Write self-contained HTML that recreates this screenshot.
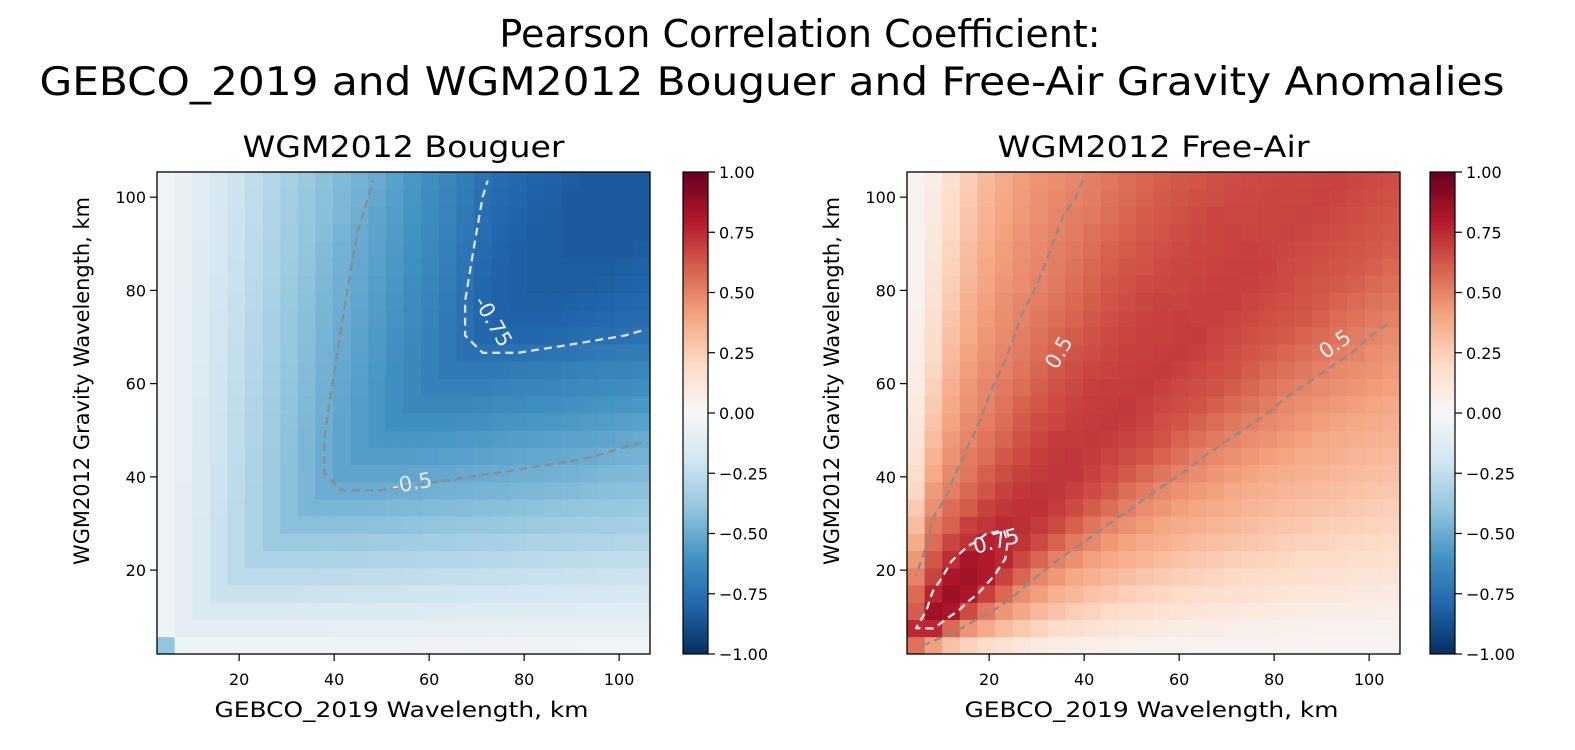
<!DOCTYPE html>
<html><head><meta charset="utf-8"><style>
html,body{margin:0;padding:0;background:#fff;}
svg{display:block;font-family:"DejaVu Sans","Liberation Sans",sans-serif;}
</style></head><body>
<svg id="fig" width="1575" height="750" viewBox="0 0 1575 750">
<defs>
<linearGradient id="cmapGrad" x1="0" y1="1" x2="0" y2="0">
<stop offset="0" stop-color="#053061"/><stop offset="0.1" stop-color="#2166ac"/><stop offset="0.2" stop-color="#4393c3"/><stop offset="0.3" stop-color="#92c5de"/><stop offset="0.4" stop-color="#d1e5f0"/><stop offset="0.5" stop-color="#f7f7f7"/><stop offset="0.6" stop-color="#fddbc7"/><stop offset="0.7" stop-color="#f4a582"/><stop offset="0.8" stop-color="#d6604d"/><stop offset="0.9" stop-color="#b2182b"/><stop offset="1" stop-color="#67001f"/>
</linearGradient>
</defs>
<text x="800" y="47" font-size="38" text-anchor="middle">Pearson Correlation Coefficient:</text>
<text x="772" y="95" font-size="39" text-anchor="middle" textLength="1465" lengthAdjust="spacingAndGlyphs">GEBCO_2019 and WGM2012 Bouguer and Free-Air Gravity Anomalies</text>
<g id="panels"></g>
</svg>
<script>
// ---- data ----
const ticksX = [20, 40, 60, 80, 100];
const ticksY = [20, 40, 60, 80, 100];
const cbarTicks = [-1.0, -0.75, -0.5, -0.25, 0.0, 0.25, 0.5, 0.75, 1.0];
const gridN = 28;
const extentX = [2.7, 106.5];
const extentY = [2.0, 105.4];
// Bouguer: magnitude by min(column,row) index, scaled by |column-row|
const bouguerProfile = [0.05,0.10,0.16,0.22,0.27,0.32,0.37,0.42,0.46,0.50,0.53,0.56,0.59,0.62,0.65,0.68,0.71,0.75,0.79,0.81,0.82,0.83,0.83,0.84,0.84,0.84,0.84,0.84];
const bouguerDiffScale = [1,1,1,1,0.99,0.98,0.97,0.96,0.95,0.94,0.93,0.92,0.91,0.90,0.88,0.86,0.85,0.84,0.83,0.82,0.81,0.80,0.79,0.78,0.77,0.76,0.75,0.75];
const bouguerCorner = -0.40;
// Free-Air: ridge value along diagonal, falloff above / below it
const freeAirRidge = [0.62,0.82,0.87,0.87,0.85,0.80,0.76,0.74,0.73,0.72,0.72,0.71,0.71,0.71,0.70,0.70,0.70,0.70,0.69,0.69,0.69,0.69,0.68,0.68,0.68,0.68,0.68,0.68];
const freeAirFalloffUpper = [1.0,0.97,0.88,0.76,0.68,0.60,0.50,0.38,0.26,0.17,0.10,0.06,0.04];
const freeAirFalloffLower = [1.0,0.90,0.70,0.55,0.45,0.35,0.27,0.20,0.14,0.10,0.07,0.05,0.04];
const freeAirRidgeOffset = 0.1;

const cmapStops = ["#053061","#2166ac","#4393c3","#92c5de","#d1e5f0","#f7f7f7","#fddbc7","#f4a582","#d6604d","#b2182b","#67001f"];
function hex(h){return [parseInt(h.substr(1,2),16),parseInt(h.substr(3,2),16),parseInt(h.substr(5,2),16)];}
function cmap(v){
  let t=(v+1)/2; t=Math.max(0,Math.min(1,t));
  let f=t*10, i=Math.min(9,Math.floor(f)), u=f-i;
  const a=hex(cmapStops[i]), b=hex(cmapStops[i+1]);
  return `rgb(${Math.round(a[0]+(b[0]-a[0])*u)},${Math.round(a[1]+(b[1]-a[1])*u)},${Math.round(a[2]+(b[2]-a[2])*u)})`;
}
const dx=(extentX[1]-extentX[0])/gridN, dy=(extentY[1]-extentY[0])/gridN;
function cx(c){return extentX[0]+(c+0.5)*dx;}
function cy(r){return extentY[0]+(r+0.5)*dy;}
function bouguerVal(c,r){ if(c===0&&r===0) return bouguerCorner; return -bouguerProfile[Math.min(c,r)]*bouguerDiffScale[Math.abs(c-r)]; }
function interp(arr,d){const i=Math.floor(d); if(i>=arr.length-1) return arr[arr.length-1]; return arr[i]+(arr[i+1]-arr[i])*(d-i);}
function freeAirVal(c,r){
  const lr=Math.log(cy(r)/cx(c))-freeAirRidgeOffset;
  const f=interp(lr>0?freeAirFalloffUpper:freeAirFalloffLower, Math.abs(lr)/0.25);
  return freeAirRidge[Math.round((c+r)/2)]*f;
}
const NS="http://www.w3.org/2000/svg";
function mk(tag,attrs,parent){const e=document.createElementNS(NS,tag);for(const k in attrs)e.setAttribute(k,attrs[k]);parent.appendChild(e);return e;}

function chain(segs){
  const key=p=>p[0].toFixed(1)+','+p[1].toFixed(1);
  const used=new Array(segs.length).fill(false);
  const map={};
  segs.forEach((s,i)=>{[0,1].forEach(j=>{const k=key(s[j]);(map[k]=map[k]||[]).push(i);});});
  const lines=[];
  for(let i=0;i<segs.length;i++){ if(used[i]) continue; used[i]=true;
    let line=[segs[i][0],segs[i][1]];
    for(let dir=0;dir<2;dir++){
      let grow=true;
      while(grow){grow=false;
        const end=line[line.length-1]; const cands=map[key(end)]||[];
        for(const j of cands){ if(used[j]) continue; used[j]=true;
          const s=segs[j]; line.push(key(s[0])===key(end)?s[1]:s[0]); grow=true; break;}
      }
      line.reverse();
    }
    lines.push(line);
  }
  return lines;
}

function panel(opt){
  const g=mk('g',{},document.getElementById('panels'));
  
  
  const L=opt.left,T=172,W=493,H=482;
  const xs=v=>L+(v-extentX[0])/(extentX[1]-extentX[0])*W;
  const ys=v=>T+H-(v-extentY[0])/(extentY[1]-extentY[0])*H;
  const vals=[];
  for(let r=0;r<gridN;r++){vals.push([]);for(let c=0;c<gridN;c++){
    const v=opt.fn(c,r); vals[r].push(v);
    const x0=xs(extentX[0]+c*dx), x1=xs(extentX[0]+(c+1)*dx), y0=ys(extentY[0]+(r+1)*dy), y1=ys(extentY[0]+r*dy);
    const rc=mk('rect',{x:x0.toFixed(2),y:y0.toFixed(2),width:(x1-x0+0.4).toFixed(2),height:(y1-y0+0.4).toFixed(2),fill:cmap(v)},g);
    
    
  }}
  opt.levels.forEach(lv=>{
    const segs=[];
    for(let r=0;r<gridN-1;r++)for(let c=0;c<gridN-1;c++){
      const p=[[c,r],[c+1,r],[c+1,r+1],[c,r+1]];
      const pts=[];
      for(let e=0;e<4;e++){
        const a=p[e],b=p[(e+1)%4];
        const va=vals[a[1]][a[0]]-lv.v, vb=vals[b[1]][b[0]]-lv.v;
        if((va<0)!==(vb<0)){const t=va/(va-vb);
          pts.push([xs(cx(a[0]+(b[0]-a[0])*t)), ys(cy(a[1]+(b[1]-a[1])*t))]);}
      }
      for(let k=0;k+1<pts.length;k+=2) segs.push([pts[k],pts[k+1]]);
    }
    let d='';
    chain(segs).forEach(line=>{d+='M'+line.map(q=>q[0].toFixed(1)+','+q[1].toFixed(1)).join('L');});
    const pa=mk('path',{d:d,stroke:lv.color,'stroke-width':2.3,fill:'none','stroke-dasharray':'8,5','stroke-linejoin':'round'},g);
    
    
  });
  opt.labels.forEach(lb=>{
    const t=mk('text',{x:lb.x,y:lb.y,'font-size':21,fill:lb.color,'text-anchor':'middle',transform:`rotate(${lb.rot} ${lb.x} ${lb.y})`},g);
    t.textContent=lb.text;
    
    
  });
  const fr=mk('rect',{x:L,y:T,width:W,height:H,fill:'none',stroke:'#000','stroke-width':1.3},g);
  
  
  ticksX.forEach(v=>{const x=xs(v);
    mk('line',{x1:x,y1:T+H,x2:x,y2:T+H+7,stroke:'#000','stroke-width':1.2},g);
    const t=mk('text',{x:x,y:685,'font-size':16,'text-anchor':'middle'},g);t.textContent=v;
    
    });
  ticksY.forEach(v=>{const y=ys(v);
    mk('line',{x1:L-7,y1:y,x2:L,y2:y,stroke:'#000','stroke-width':1.2},g);
    const t=mk('text',{x:L-11,y:y+6,'font-size':16,'text-anchor':'end'},g);t.textContent=v;
    
    });
  const tt=mk('text',{x:L+W/2,y:157,'font-size':29,'text-anchor':'middle',textLength:opt.titleLen,lengthAdjust:'spacingAndGlyphs'},g);tt.textContent=opt.title;
  
  
  const xl=mk('text',{x:L+W/2-2,y:717,'font-size':21,'text-anchor':'middle',textLength:374,lengthAdjust:'spacingAndGlyphs'},g);xl.textContent='GEBCO_2019 Wavelength, km';
  
  
  const yx=L-68, yy=T+H/2-32;
  const yl=mk('text',{x:yx,y:yy,'font-size':21,'text-anchor':'middle',textLength:368,lengthAdjust:'spacingAndGlyphs',transform:`rotate(-90 ${yx} ${yy})`},g);yl.textContent='WGM2012 Gravity Wavelength, km';
  
  
  const CB=opt.cbar;
  const cb=mk('rect',{x:CB,y:T,width:25,height:H,fill:'url(#cmapGrad)',stroke:'#000','stroke-width':1.2},g);
  
  
  cbarTicks.forEach(v=>{const y=T+H-(v+1)/2*H;
    mk('line',{x1:CB+25,y1:y,x2:CB+32,y2:y,stroke:'#000','stroke-width':1.2},g);
    const t=mk('text',{x:CB+36,y:y+6,'font-size':16},g);t.textContent=(v<0?'\u2212':'')+Math.abs(v).toFixed(2);
    
    });
}
panel({name:'bouguer-panel',left:157,cbar:683,title:'WGM2012 Bouguer',titleLen:322,fn:bouguerVal,
  levels:[{v:-0.5,color:'#8c8c8c'},{v:-0.75,color:'#e0e0e0'}],
  labels:[{x:487,y:325,rot:60,text:'-0.75',color:'#f0f0f0'},{x:413,y:490,rot:-10,text:'-0.5',color:'#e8e8e8'}]});
panel({name:'free-air-panel',left:907,cbar:1430,title:'WGM2012 Free-Air',titleLen:312,fn:freeAirVal,
  levels:[{v:0.5,color:'#8c8c8c'},{v:0.75,color:'#e8e8e8'}],
  labels:[{x:1065,y:356,rot:-60,text:'0.5',color:'#f0f0f0'},{x:1339,y:350,rot:-35,text:'0.5',color:'#f0f0f0'},{x:998,y:548,rot:-15,text:'0.75',color:'#ffffff'}]});
</script>
</body></html>
